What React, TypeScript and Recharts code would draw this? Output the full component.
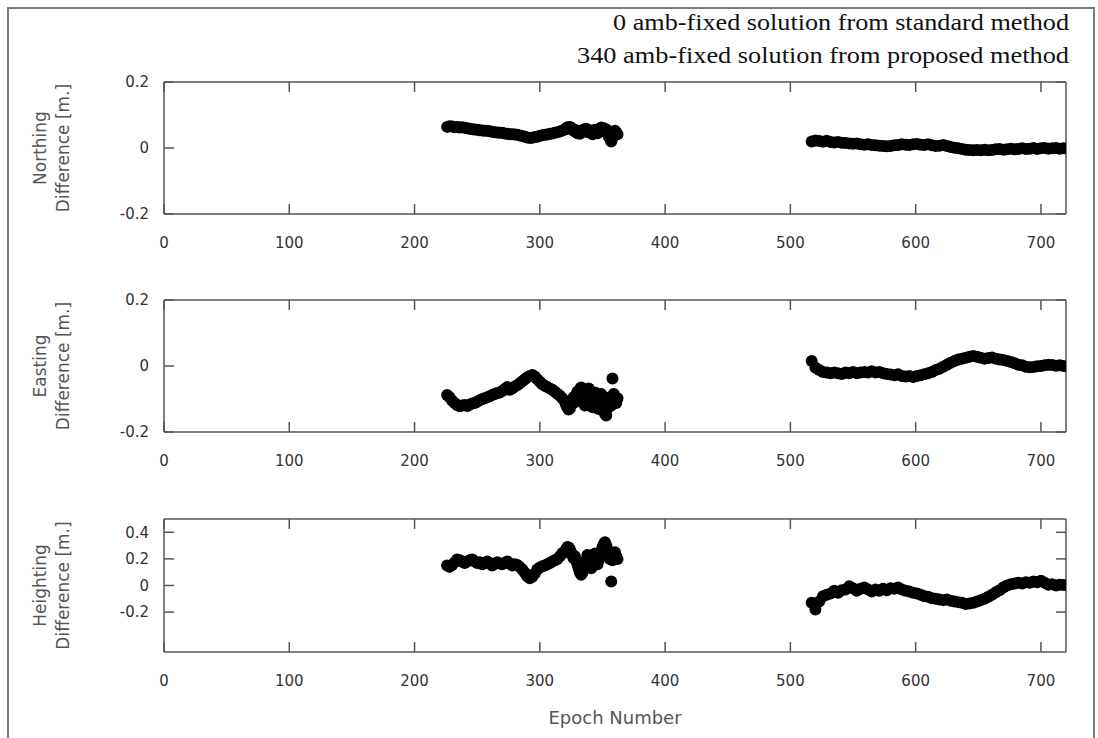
import React from "react";
import { ScatterChart, Scatter, XAxis, YAxis } from "recharts";

// first block: every 2nd epoch up to 318, then every epoch in the noisy tail; second block every 3rd epoch
const epochsA = [226, 228, 230, 232, 234, 236, 238, 240, 242, 244, 246, 248, 250, 252, 254, 256, 258, 260, 262, 264, 266, 268, 270, 272, 274, 276, 278, 280, 282, 284, 286, 288, 290, 292, 294, 296, 298, 300, 302, 304, 306, 308, 310, 312, 314, 316, 318,
  320, 321, 322, 323, 324, 325, 326, 327, 328, 329, 330, 331, 332, 333, 334, 335, 336, 337, 338, 339, 340, 341, 342, 343, 344, 345, 346, 347, 348, 349, 350, 351, 352, 353, 354, 355, 356, 357, 358, 359, 360, 361, 362];
const epochsB = [517, 520, 523, 526, 529, 532, 535, 538, 541, 544, 547, 550, 553, 556, 559, 562, 565, 568, 571, 574, 577, 580, 583, 586, 589, 592, 595, 598, 601, 604, 607, 610, 613, 616, 619, 622, 625, 628, 631, 634, 637, 640, 643, 646, 649, 652, 655, 658, 661, 664, 667, 670, 673, 676, 679, 682, 685, 688, 691, 694, 697, 700, 703, 706, 709, 712, 715, 718];

const northA = [
  0.064, 0.066, 0.065, 0.063, 0.064, 0.062, 0.063, 0.061, 0.06, 0.058,
  0.057, 0.056, 0.055, 0.054, 0.053, 0.052, 0.052, 0.051, 0.049, 0.048,
  0.047, 0.046, 0.046, 0.044, 0.043, 0.042, 0.042, 0.041, 0.04, 0.038,
  0.036, 0.034, 0.032, 0.03, 0.031, 0.033, 0.034, 0.037, 0.039, 0.04,
  0.041, 0.043, 0.044, 0.046, 0.048, 0.05, 0.053,
  0.056, 0.06, 0.063, 0.058, 0.064, 0.061, 0.057, 0.052, 0.055, 0.048,
  0.045, 0.05, 0.043, 0.047, 0.052, 0.056, 0.05, 0.058, 0.054, 0.048,
  0.053, 0.046, 0.042, 0.05, 0.055, 0.05, 0.045, 0.052, 0.058, 0.062,
  0.055, 0.06, 0.05, 0.056, 0.045, 0.035, 0.028, 0.02, 0.03, 0.045,
  0.052, 0.047, 0.042,
];
const northB = [0.02, 0.023, 0.021, 0.019, 0.022, 0.018, 0.017, 0.018, 0.016, 0.015, 0.014, 0.013, 0.014, 0.011, 0.01, 0.011, 0.009, 0.008, 0.007, 0.006, 0.005, 0.006, 0.008, 0.009, 0.011, 0.01, 0.009, 0.011, 0.012, 0.01, 0.009, 0.011, 0.008, 0.006, 0.007, 0.009, 0.006, 0.003, 0.001, -0.001, -0.003, -0.005, -0.006, -0.007, -0.006, -0.007, -0.005, -0.007, -0.006, -0.004, -0.003, -0.005, -0.004, -0.002, -0.004, -0.003, -0.001, -0.003, -0.002, 0, -0.003, -0.001, 0, -0.002, -0.001, 0, -0.002, -0.001];

const eastA = [
  -0.088, -0.095, -0.105, -0.112, -0.118, -0.122, -0.12, -0.118, -0.121, -0.117,
  -0.114, -0.112, -0.108, -0.104, -0.1, -0.098, -0.095, -0.092, -0.088, -0.085,
  -0.082, -0.08, -0.076, -0.07, -0.064, -0.072, -0.068, -0.062, -0.058, -0.052,
  -0.046, -0.04, -0.034, -0.03, -0.027, -0.032, -0.04, -0.048, -0.055, -0.06,
  -0.064, -0.068, -0.072, -0.078, -0.084, -0.09, -0.098,
  -0.108, -0.118, -0.125, -0.132, -0.128, -0.118, -0.105, -0.095, -0.11, -0.088,
  -0.078, -0.095, -0.07, -0.065, -0.085, -0.105, -0.12, -0.1, -0.075, -0.068,
  -0.09, -0.11, -0.125, -0.1, -0.08, -0.09, -0.115, -0.13, -0.105, -0.085,
  -0.1, -0.125, -0.145, -0.15, -0.128, -0.11, -0.095, -0.12, -0.038, -0.085,
  -0.1, -0.112, -0.098,
];
const eastB = [0.015, -0.005, -0.012, -0.018, -0.02, -0.022, -0.02, -0.022, -0.024, -0.02, -0.022, -0.018, -0.022, -0.02, -0.018, -0.02, -0.016, -0.02, -0.018, -0.022, -0.024, -0.026, -0.028, -0.025, -0.03, -0.032, -0.03, -0.033, -0.03, -0.028, -0.025, -0.022, -0.018, -0.012, -0.008, -0.002, 0.004, 0.01, 0.015, 0.02, 0.022, 0.025, 0.028, 0.03, 0.028, 0.025, 0.022, 0.024, 0.026, 0.022, 0.02, 0.018, 0.015, 0.012, 0.008, 0.004, 0.002, -0.002, -0.004, -0.003, -0.001, 0, 0.002, 0.004, 0.003, 0.001, 0.002, 0];

const heightA = [
  0.15, 0.14, 0.155, 0.175, 0.195, 0.19, 0.18, 0.17, 0.18, 0.19,
  0.195, 0.18, 0.17, 0.175, 0.16, 0.17, 0.18, 0.165, 0.15, 0.165,
  0.175, 0.165, 0.16, 0.17, 0.18, 0.165, 0.15, 0.16, 0.155, 0.14,
  0.12, 0.095, 0.07, 0.055, 0.065, 0.09, 0.12, 0.135, 0.145, 0.15,
  0.16, 0.17, 0.18, 0.19, 0.2, 0.22, 0.245,
  0.25, 0.27, 0.29, 0.285, 0.27, 0.25, 0.225, 0.205, 0.22, 0.19,
  0.16, 0.13, 0.1, 0.08, 0.095, 0.12, 0.15, 0.19, 0.23, 0.2,
  0.16, 0.13, 0.17, 0.21, 0.24, 0.2, 0.16, 0.19, 0.23, 0.26,
  0.29, 0.31, 0.325, 0.3, 0.27, 0.24, 0.2, 0.03, 0.19, 0.23,
  0.25, 0.22, 0.2,
];
const heightB = [-0.13, -0.18, -0.12, -0.08, -0.07, -0.06, -0.04, -0.055, -0.035, -0.03, -0.005, -0.02, -0.04, -0.025, -0.015, -0.03, -0.045, -0.03, -0.04, -0.025, -0.035, -0.02, -0.025, -0.015, -0.03, -0.04, -0.045, -0.055, -0.06, -0.07, -0.08, -0.085, -0.095, -0.1, -0.105, -0.11, -0.105, -0.115, -0.12, -0.125, -0.13, -0.14, -0.135, -0.13, -0.12, -0.11, -0.1, -0.085, -0.07, -0.05, -0.035, -0.015, 0, 0.01, 0.015, 0.02, 0.015, 0.025, 0.02, 0.03, 0.025, 0.035, 0.02, 0.005, 0.01, 0, 0.005, 0.003];

const xTicks = [0, 100, 200, 300, 400, 500, 600, 700];
const neTicks = [-0.2, 0, 0.2];
const hTicks = [-0.2, 0, 0.2, 0.4];
const keyLines = ["0 amb-fixed solution from standard method", "340 amb-fixed solution from proposed method"];

const toPoints = (a: number[], b: number[]) => [
  ...epochsA.map((x, i) => ({ x, y: a[i] })),
  ...epochsB.map((x, i) => ({ x, y: b[i] })),
];

const axisColor = "#555";
const tickFont = { fill: "#333", fontSize: 15, fontFamily: "DejaVu Sans" };
const titleFont = { fill: "#555", fontSize: 17, fontFamily: "DejaVu Sans" };

const Dot = (p: any) => <circle cx={p.cx} cy={p.cy} r={6} fill="#000" />;
const NoTick = () => <g />;

interface PanelProps {
  top: number;
  height: number;
  mt: number;
  mb: number;
  name: string;
  data: { x: number; y: number }[];
  domain: [number, number];
  ticks: number[];
  xTitle?: string;
}

function Panel({ top, height, mt, mb, name, data, domain, ticks, xTitle }: PanelProps) {
  const plotTop = mt + 1;
  const cy = plotTop + (height - plotTop - mb - 32) / 2;
  return (
    <div style={{ position: "absolute", left: 0, top }}>
      <ScatterChart width={1098} height={height} margin={{ top: mt, right: 31, bottom: mb, left: 104 }}>
        <XAxis xAxisId="b" type="number" dataKey="x" domain={[0, 720]} ticks={xTicks} interval={0} allowDataOverflow
          height={32} stroke={axisColor} strokeWidth={1.5} tickSize={-10} tickMargin={33} tick={tickFont}
          label={xTitle ? {
            content: () => (
              <text x={615} y={height - 14} textAnchor="middle" {...titleFont} fontSize={18}>{xTitle}</text>
            ),
          } : undefined} />
        <XAxis xAxisId="t" orientation="top" type="number" dataKey="x" domain={[0, 720]} ticks={xTicks} interval={0}
          allowDataOverflow height={1} tick={NoTick} tickSize={-10} stroke={axisColor} strokeWidth={1.5} />
        <YAxis yAxisId="l" type="number" dataKey="y" domain={domain} ticks={ticks} interval={0} allowDataOverflow
          width={60} stroke={axisColor} strokeWidth={1.5} tickSize={-10} tickMargin={25} tick={tickFont}
          label={{
            content: () => (
              <g transform={`translate(0, ${cy}) rotate(-90)`}>
                <text x={0} y={46} textAnchor="middle" {...titleFont}>{name}</text>
                <text x={0} y={69} textAnchor="middle" {...titleFont}>Difference [m.]</text>
              </g>
            ),
          }} />
        <YAxis yAxisId="r" orientation="right" type="number" dataKey="y" domain={domain} ticks={ticks} interval={0}
          allowDataOverflow width={1} tick={NoTick} tickSize={-10} stroke={axisColor} strokeWidth={1.5} />
        <Scatter xAxisId="b" yAxisId="l" data={data} fill="#000" shape={Dot} isAnimationActive={false} />
      </ScatterChart>
    </div>
  );
}

export default function App() {
  return (
    <div style={{ position: "absolute", left: 0, top: 0, width: 1098, height: 738, overflow: "hidden", background: "#fff" }}>
      <div style={{ position: "absolute", left: 7, top: 7, width: 1084, height: 740, border: "2px solid #7a7a7a" }} />
      <svg style={{ position: "absolute", left: 0, top: 0 }} width={1098} height={80}>
        {keyLines.map((t, i) => (
          <text key={t} x={1069} y={30 + i * 33} textAnchor="end" fontFamily="Liberation Serif" fontSize={23}
            fill="#111" textLength={i === 0 ? 456 : 492} lengthAdjust="spacingAndGlyphs">{t}</text>
        ))}
      </svg>
      <Panel top={0} height={260} mt={81} mb={14} name="Northing" data={toPoints(northA, northB)} domain={[-0.2, 0.2]} ticks={neTicks} />
      <Panel top={220} height={260} mt={79} mb={16} name="Easting" data={toPoints(eastA, eastB)} domain={[-0.2, 0.2]} ticks={neTicks} />
      <Panel top={440} height={298} mt={78} mb={54} name="Heighting" data={toPoints(heightA, heightB)} domain={[-0.5, 0.5]} ticks={hTicks} xTitle="Epoch Number" />
    </div>
  );
}
